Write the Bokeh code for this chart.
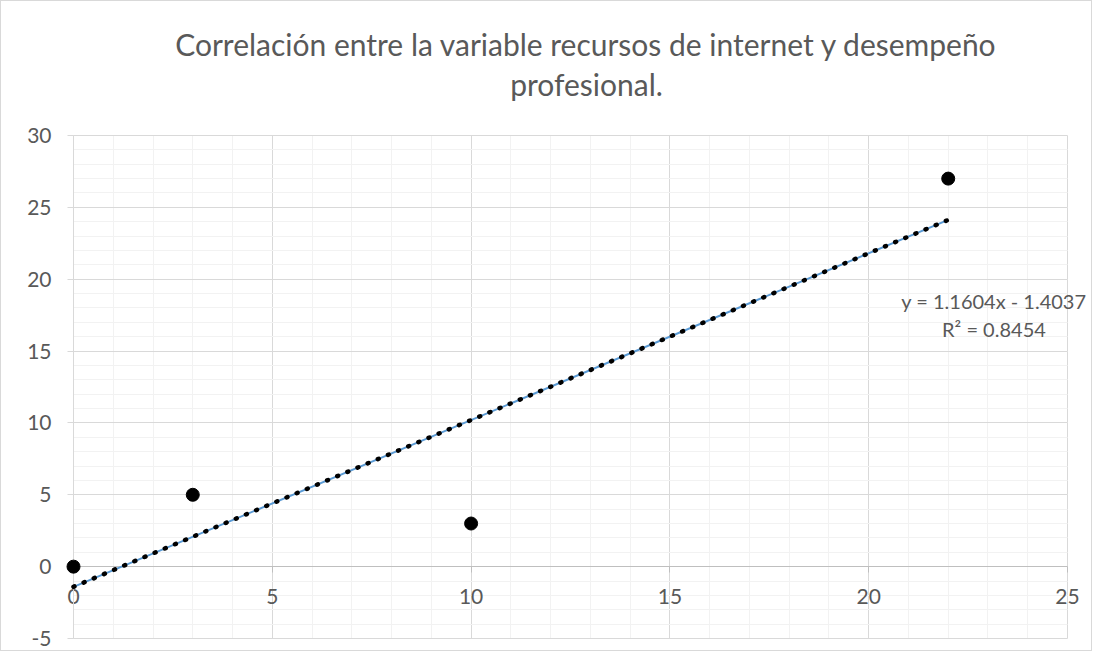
import numpy as np
from bokeh.plotting import figure
from bokeh.models import Range1d, SingleIntervalTicker, Label, Grid, BoxAnnotation
from bokeh.embed import file_html
from bokeh.resources import INLINE

# ---- data ----
x_vals = [0, 3, 10, 22]
y_vals = [0, 5, 3, 27]
title_line1 = "Correlación entre la variable recursos de internet y desempeño"
title_line2 = "profesional."
x_limits = (0, 25)
y_limits = (-5, 30)
tick_step = 5

# linear trendline (least squares) from the data
slope, intercept = np.polyfit(x_vals, y_vals, 1)
r2 = np.corrcoef(x_vals, y_vals)[0, 1] ** 2
sign = "-" if intercept < 0 else "+"
eq_text = f"y = {slope:.4f}x {sign} {abs(intercept):.4f}"
r2_text = f"R² = {r2:.4f}"
trend_x = [min(x_vals), max(x_vals)]
trend_y = [slope * v + intercept for v in trend_x]

# ---- layout (canvas pixels) ----
FIG_W, FIG_H = 1092, 651
A_L, A_R, A_T, A_B = 72, 1066, 134, 637   # plot area inside canvas
sx = (A_R - A_L) / (x_limits[1] - x_limits[0])
sy = (A_B - A_T) / (y_limits[1] - y_limits[0])
xr = Range1d(x_limits[0] - A_L / sx, x_limits[1] + (FIG_W - A_R) / sx)
yr = Range1d(y_limits[0] - (FIG_H - A_B) / sy, y_limits[1] + A_T / sy)


def px_x(px):  # picture x -> data x
    return x_limits[0] + (px - 1 - A_L) / sx


def px_y(py):  # picture y -> data y
    return y_limits[1] - (py - 1 - A_T) / sy


FONT = "Lato"
TXT = "#595959"

p = figure(width=FIG_W, height=FIG_H, x_range=xr, y_range=yr,
           output_backend="svg", toolbar_location=None,
           min_border_left=0, min_border_right=0,
           min_border_top=0, min_border_bottom=0)
p.styles = {"border": "1px solid #d9d9d9"}
p.outline_line_color = None
p.background_fill_color = "white"
p.border_fill_color = "white"

xt = SingleIntervalTicker(interval=tick_step, num_minor_ticks=5)
yt = SingleIntervalTicker(interval=tick_step, num_minor_ticks=5)
p.xaxis.ticker = xt
p.yaxis.ticker = yt
p.xgrid.ticker = xt
p.ygrid.ticker = yt
p.xgrid.bounds = x_limits
p.ygrid.bounds = y_limits
for g in (p.xgrid, p.ygrid):
    g.grid_line_color = "#d9d9d9"
    g.minor_grid_line_color = "#f2f2f2"
    g.grid_line_width = 1
    g.minor_grid_line_width = 1

if "cross_bounds" in Grid.properties():
    p.xgrid.cross_bounds = y_limits
    p.ygrid.cross_bounds = x_limits
else:
    eps_x, eps_y = 0.6 / sx, 0.6 / sy
    for kw in (dict(right=x_limits[0] - eps_x), dict(left=x_limits[1] + eps_x),
               dict(top=y_limits[0] - eps_y), dict(bottom=y_limits[1] + eps_y)):
        p.add_layout(BoxAnnotation(fill_color="white", fill_alpha=1,
                                   line_alpha=0, level="underlay", **kw))

p.xaxis.fixed_location = 0
p.yaxis.fixed_location = 0
p.xaxis.bounds = x_limits
p.yaxis.bounds = y_limits
for ax, lc in ((p.xaxis, "#bfbfbf"), (p.yaxis, "#d9d9d9")):
    ax.axis_line_color = lc
    ax.major_tick_line_color = lc
    ax.major_tick_out = 6
    ax.major_tick_in = 0
    ax.minor_tick_line_color = None
    ax.major_label_text_font = FONT
    ax.major_label_text_font_size = "21px"
    ax.major_label_text_color = TXT
p.xaxis.major_label_standoff = 16
p.yaxis.major_label_standoff = 16
p.yaxis.major_label_overrides = {-5: "-5"}

# trendline
p.line(trend_x, trend_y, line_color="#5B9BD5", line_width=2, level="annotation")
p.line(trend_x, trend_y, line_color="black", line_width=4.5,
       line_dash="1 10", line_cap="round", level="annotation")

# points
p.scatter(x_vals, y_vals, size=13, color="black", level="annotation")

# title (two centred lines)
for txt, base in ((title_line1, 43), (title_line2, 83)):
    p.add_layout(Label(x=px_x(586), y=px_y(base), text=txt, text_align="center",
                       text_baseline="alphabetic", text_font=FONT,
                       text_font_size="30px", text_color=TXT))

# equation labels (placed in data space, right of the last point)
eq_x = 23.15
for txt, yb in ((eq_text, 18.5), (r2_text, 16.55)):
    p.add_layout(Label(x=eq_x, y=yb, text=txt, text_align="center",
                       text_baseline="alphabetic", text_font=FONT,
                       text_font_size="20px", text_color=TXT))

open("out.html", "w").write(file_html(p, INLINE))
